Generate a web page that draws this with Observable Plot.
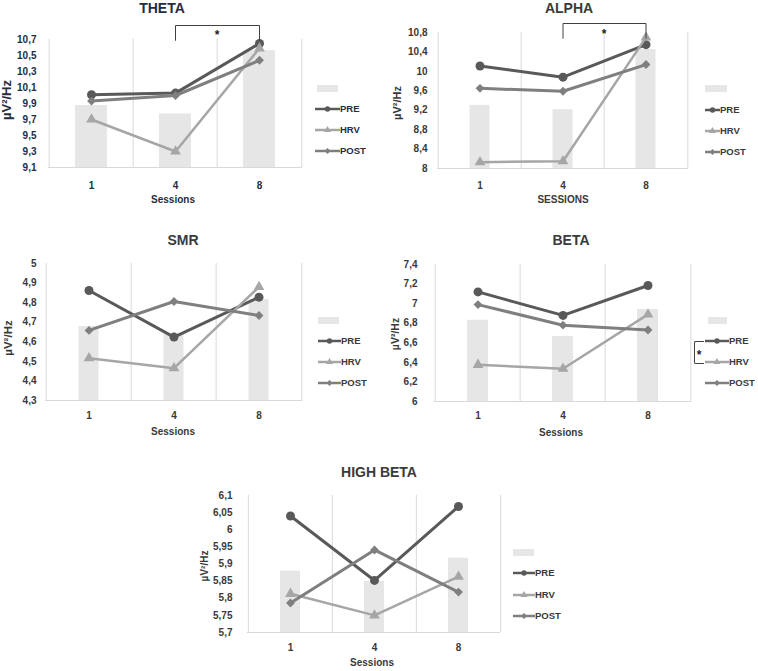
<!DOCTYPE html>
<html><head><meta charset="utf-8">
<script src="https://cdn.jsdelivr.net/npm/d3@7"></script>
<script src="https://cdn.jsdelivr.net/npm/@observablehq/plot@0.6"></script>
<style>
body{margin:0;background:#fff;}
#root{position:relative;width:758px;height:671px;overflow:hidden;font-family:"Liberation Sans",Arial,sans-serif;font-weight:bold;}
.abs{position:absolute;white-space:nowrap;line-height:1;}
.panel svg{background:none !important;overflow:visible;}
</style></head><body><div id="root"></div>
<script>
const sessions = ["1", "4", "8"];
const seriesNames = ["PRE", "HRV", "POST"];

const thetaPre = [10.01, 10.03, 10.65];
const thetaHrv = [9.70, 9.30, 10.59];
const thetaPost = [9.93, 10.00, 10.44];
const thetaBar = [9.875, 9.77, 10.56];
const thetaTicks = [9.1, 9.3, 9.5, 9.7, 9.9, 10.1, 10.3, 10.5, 10.7];

const alphaPre = [10.11, 9.88, 10.55];
const alphaHrv = [8.13, 8.15, 10.70];
const alphaPost = [9.65, 9.59, 10.14];
const alphaBar = [9.30, 9.21, 10.45];
const alphaTicks = [8, 8.4, 8.8, 9.2, 9.6, 10, 10.4, 10.8];

const smrPre = [4.862, 4.624, 4.828];
const smrHrv = [4.516, 4.465, 4.88];
const smrPost = [4.658, 4.806, 4.734];
const smrBar = [4.678, 4.64, 4.816];
const smrTicks = [4.3, 4.4, 4.5, 4.6, 4.7, 4.8, 4.9, 5];

const betaPre = [7.12, 6.88, 7.185];
const betaHrv = [6.375, 6.335, 6.89];
const betaPost = [6.99, 6.78, 6.73];
const betaBar = [6.83, 6.665, 6.94];
const betaTicks = [6, 6.2, 6.4, 6.6, 6.8, 7, 7.2, 7.4];

const hbPre = [6.04, 5.852, 6.068];
const hbHrv = [5.813, 5.75, 5.863];
const hbPost = [5.786, 5.941, 5.818];
const hbBar = [5.879, 5.849, 5.917];
const hbTicks = [5.7, 5.75, 5.8, 5.85, 5.9, 5.95, 6, 6.05, 6.1];

// significance annotations (data units)
const thetaBracket = {from: "4", to: "8", top: 10.875, low: 10.69, star: 10.79};
const alphaBracket = {from: "4", to: "8", top: 10.985, low: 10.68, star: 10.83};

const seriesStyle = {
  PRE: {color: "#595959", symbol: "circle", width: 3},
  HRV: {color: "#a6a6a6", symbol: "triangle", width: 2.5},
  POST: {color: "#7f7f7f", symbol: "diamond2", width: 3}
};

const panels = [
  {title: "THETA", vals: [thetaPre, thetaHrv, thetaPost], bar: thetaBar, ticks: thetaTicks, xLabel: "Sessions", bracket: thetaBracket,
   L: 48, R: 302, T: 39, B: 167, ytp: 12, xtp: 14, inset: 26, titleX: 162, titleY: 8, ylabX: 6, ylabY: 100, ylabSize: 13, xlabX: 173, xlabY: 200, text: "#252d40",
   legend: {sx: 317, sw: 21, sy: 88, lx: 315, ll: 25, rows: [109, 130, 151]}},
  {title: "ALPHA", vals: [alphaPre, alphaHrv, alphaPost], bar: alphaBar, ticks: alphaTicks, xLabel: "SESSIONS", bracket: alphaBracket,
   L: 437, R: 688, T: 32, B: 168, ytp: 10, xtp: 13, inset: 31.5, titleX: 569, titleY: 8, ylabX: 397, ylabY: 103, ylabSize: 11, xlabX: 563, xlabY: 200, text: "#3a3a3a",
   legend: {sx: 705, sw: 22, sy: 88, lx: 705, ll: 15, rows: [110, 131, 152]}},
  {title: "SMR", vals: [smrPre, smrHrv, smrPost], bar: smrBar, ticks: smrTicks, xLabel: "Sessions",
   L: 45, R: 302, T: 263, B: 400, ytp: 9, xtp: 11, inset: 32.5, titleX: 183, titleY: 240, ylabX: 9, ylabY: 338, ylabSize: 11.5, xlabX: 173, xlabY: 432, text: "#3a3a3a",
   legend: {sx: 318, sw: 21, sy: 320, lx: 318, ll: 23, rows: [341, 362, 383]}},
  {title: "BETA", vals: [betaPre, betaHrv, betaPost], bar: betaBar, ticks: betaTicks, xLabel: "Sessions",
   L: 434, R: 691, T: 264, B: 401, ytp: 17, xtp: 10, inset: 32, titleX: 571, titleY: 240, ylabX: 395, ylabY: 334, ylabSize: 10.5, xlabX: 561, xlabY: 433, text: "#3a3a3a",
   legend: {sx: 708, sw: 19, sy: 320, lx: 705, ll: 24, rows: [341, 362, 383], bracket: true}},
  {title: "HIGH BETA", vals: [hbPre, hbHrv, hbPost], bar: hbBar, ticks: hbTicks, xLabel: "Sessions",
   L: 247, R: 500, T: 495, B: 632, ytp: 15, xtp: 11, inset: 32, titleX: 379, titleY: 472, ylabX: 205, ylabY: 566, ylabSize: 10, xlabX: 372, xlabY: 663, text: "#3a3a3a",
   legend: {sx: 513, sw: 21, sy: 552, lx: 513, ll: 22, rows: [573, 595, 616]}}
];

const root = document.getElementById("root");
const ml = 50, mr = 6, mt = 30, mb = 44;
const fmt = d => String(d).replace(".", ",");
const FONT = '"Liberation Sans",Arial,sans-serif';

function addText(txt, x, y, opts = {}) {
  const el = document.createElement("div");
  el.className = "abs";
  el.textContent = txt;
  el.style.left = x + "px";
  el.style.top = y + "px";
  el.style.fontSize = (opts.size || 10) + "px";
  el.style.color = opts.color || "#3a3a3a";
  el.style.transform = opts.transform || "translate(-50%,-50%)";
  root.appendChild(el);
  return el;
}

for (const p of panels) {
  const rows = [];
  seriesNames.forEach((s, k) => sessions.forEach((x, i) => rows.push({session: x, value: p.vals[k][i], series: s})));
  const bars = sessions.map((x, i) => ({session: x, value: p.bar[i]}));
  const y0 = p.ticks[0], y1 = p.ticks[p.ticks.length - 1];
  const bw = (p.R - p.L) / sessions.length;
  const marks = [
    Plot.barY(bars, {x: "session", y1: y0, y2: "value", fill: "#e7e6e6", insetLeft: p.inset, insetRight: p.inset}),
    Plot.ruleX(sessions, {x: d => d, dx: -bw / 2, y1: y0, y2: y1, stroke: "#d9d9d9", strokeWidth: 1}),
    Plot.ruleX([sessions[sessions.length - 1]], {x: d => d, dx: bw / 2, y1: y0, y2: y1, stroke: "#d9d9d9", strokeWidth: 1}),
    Plot.ruleY([y0], {stroke: "#d9d9d9", strokeWidth: 1})
  ];
  for (const s of seriesNames) {
    const st = seriesStyle[s];
    const d = rows.filter(r => r.series === s);
    marks.push(Plot.line(d, {x: "session", y: "value", stroke: st.color, strokeWidth: st.width}));
    marks.push(Plot.dot(d, {x: "session", y: "value", symbol: st.symbol, fill: st.color, stroke: "none", r: s === "PRE" ? 4.5 : 4}));
  }
  if (p.bracket) {
    const b = p.bracket;
    marks.push(Plot.line([{session: b.from, v: b.low}, {session: b.from, v: b.top}, {session: b.to, v: b.top}, {session: b.to, v: b.low}],
      {x: "session", y: "v", stroke: "#404040", strokeWidth: 1}));
    marks.push(Plot.text([{session: b.to, v: b.star}], {x: "session", y: "v", text: () => "*", dx: -bw / 2, dy: 3, fontSize: 12, fill: "#222"}));
  }
  const chart = Plot.plot({
    width: p.R - p.L + ml + mr,
    height: p.B - p.T + mt + mb,
    marginLeft: ml, marginRight: mr, marginTop: mt, marginBottom: mb,
    style: {fontFamily: FONT, fontWeight: "bold", fontSize: "10px", color: p.text, background: "none", overflow: "visible"},
    x: {type: "band", domain: sessions, padding: 0, label: null, tickSize: 0, tickPadding: p.xtp},
    y: {domain: [y0, y1], ticks: p.ticks, tickFormat: fmt, tickSize: 0, tickPadding: p.ytp, label: null},
    marks
  });
  const wrap = document.createElement("div");
  wrap.className = "abs panel";
  wrap.style.left = (p.L - ml) + "px";
  wrap.style.top = (p.T - mt) + "px";
  wrap.style.width = (p.R - p.L + ml + mr) + "px";
  wrap.appendChild(chart);
  root.appendChild(wrap);

  addText(p.title, p.titleX, p.titleY, {size: 14, color: p.text});
  addText("µV²/Hz", p.ylabX, p.ylabY, {size: p.ylabSize, color: p.text, transform: "translate(-50%,-50%) rotate(-90deg)"});
  addText(p.xLabel, p.xlabX, p.xlabY, {size: 10, color: p.text});

  // legend
  const lg = p.legend;
  const sw = document.createElement("div");
  sw.className = "abs";
  Object.assign(sw.style, {left: lg.sx + "px", top: (lg.sy - 3.5) + "px", width: lg.sw + "px", height: "7px", background: "#e7e6e6"});
  root.appendChild(sw);
  seriesNames.forEach((s, k) => {
    const st = seriesStyle[s];
    const y = lg.rows[k];
    const svg = d3.create("svg").attr("width", lg.ll).attr("height", 10)
      .style("position", "absolute").style("left", lg.lx + "px").style("top", (y - 5) + "px");
    svg.append("line").attr("x1", 0).attr("x2", lg.ll).attr("y1", 5).attr("y2", 5).attr("stroke", st.color).attr("stroke-width", 2.5);
    svg.append("path").attr("transform", `translate(${lg.ll / 2},5)`)
      .attr("d", d3.symbol(s === "PRE" ? d3.symbolCircle : s === "HRV" ? d3.symbolTriangle : d3.symbolDiamond2, 22)())
      .attr("fill", st.color);
    root.appendChild(svg.node());
    addText(s, lg.lx + lg.ll, y, {size: 9.5, color: p.text, transform: "translate(0,-50%)"});
  });
  if (lg.bracket) {
    const br = document.createElement("div");
    br.className = "abs";
    Object.assign(br.style, {left: "694px", top: lg.rows[0] + "px", width: "9px", height: (lg.rows[1] - lg.rows[0]) + "px",
      borderLeft: "1px solid #404040", borderTop: "1px solid #404040", borderBottom: "1px solid #404040", borderRadius: "2px 0 0 2px"});
    root.appendChild(br);
    addText("*", 699, (lg.rows[0] + lg.rows[1]) / 2 + 3, {size: 12, color: "#222"});
  }
}
</script></body></html>
